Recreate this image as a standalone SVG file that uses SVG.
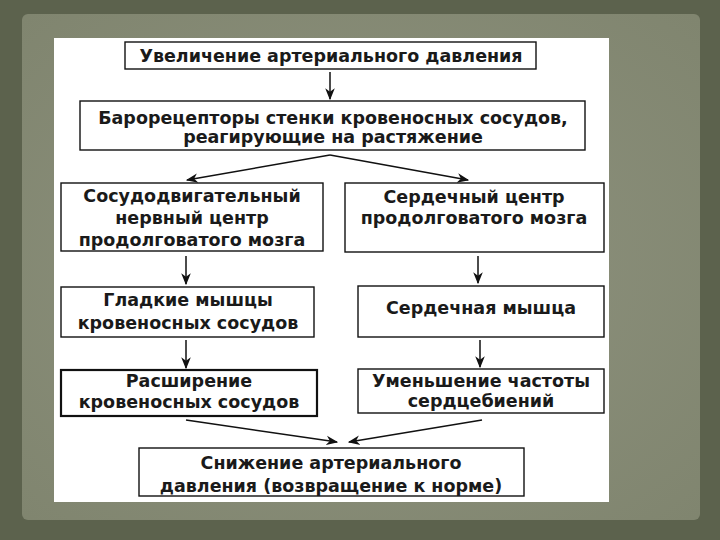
<svg xmlns="http://www.w3.org/2000/svg" width="720" height="540" viewBox="0 0 720 540">
<defs>
<style>
.box{fill:#fff;stroke:#111;stroke-width:1.4}
.thick{stroke-width:2.2}
.t{font-family:"DejaVu Sans",Verdana,sans-serif;font-size:17.5px;font-weight:bold;fill:#1a1a1a;text-anchor:middle}
.c{stroke:#111;stroke-width:1.5;fill:none;marker-end:url(#ah)}
</style>
<marker id="ah" viewBox="0 0 10 10" refX="9" refY="5" markerWidth="12" markerHeight="12" markerUnits="userSpaceOnUse" orient="auto">
<path d="M0,1 L10,5 L0,9 L3,5 Z" fill="#111"/>
</marker>
<radialGradient id="bg" cx="50%" cy="50%" r="70%">
<stop offset="0" stop-color="#8f937f"/>
<stop offset="1" stop-color="#80856f"/>
</radialGradient>
</defs>
<rect x="0" y="0" width="720" height="540" fill="#5c624d"/>
<rect x="22" y="14" width="678" height="506" rx="6" fill="url(#bg)"/>
<rect x="54" y="38" width="555" height="464" fill="#fff"/>
<g id="connectors">
<line class="c" x1="330" y1="72" x2="330" y2="99"/>
<line class="c" x1="330" y1="155" x2="187" y2="180"/>
<line class="c" x1="330" y1="155" x2="468" y2="180"/>
<line class="c" x1="186" y1="256" x2="186" y2="284"/>
<line class="c" x1="478" y1="256" x2="478" y2="283"/>
<line class="c" x1="186" y1="340" x2="186" y2="368"/>
<line class="c" x1="480" y1="340" x2="480" y2="367"/>
<line class="c" x1="186" y1="420" x2="337" y2="442"/>
<line class="c" x1="482" y1="420" x2="349" y2="442"/>
</g>
<g id="n1"><rect class="box" x="125" y="42" width="411" height="27"/><text class="t" x="331" y="62">Увеличение артериального давления</text></g>
<g id="n2"><rect class="box" x="80" y="101" width="505" height="49"/><text class="t" x="333" y="124">Барорецепторы стенки кровеносных сосудов,</text><text class="t" x="333" y="143">реагирующие на растяжение</text></g>
<g id="n3"><rect class="box" x="61" y="183" width="262" height="68"/><text class="t" x="192" y="202">Сосудодвигательный</text><text class="t" x="192" y="224">нервный центр</text><text class="t" x="192" y="246">продолговатого мозга</text></g>
<g id="n4"><rect class="box" x="345" y="183" width="259" height="69"/><text class="t" x="474" y="203">Сердечный центр</text><text class="t" x="474" y="224">продолговатого мозга</text></g>
<g id="n5"><rect class="box" x="61" y="287" width="253" height="50"/><text class="t" x="188" y="306">Гладкие мышцы</text><text class="t" x="188" y="329">кровеносных сосудов</text></g>
<g id="n6"><rect class="box" x="358" y="286" width="246" height="51"/><text class="t" x="481" y="314">Сердечная мышца</text></g>
<g id="n7"><rect class="box thick" x="61" y="370" width="256" height="46"/><text class="t" x="189" y="387">Расширение</text><text class="t" x="189" y="408">кровеносных сосудов</text></g>
<g id="n8"><rect class="box" x="358" y="369" width="246" height="44"/><text class="t" x="481" y="387">Уменьшение частоты</text><text class="t" x="481" y="407">сердцебиений</text></g>
<g id="n9"><rect class="box" x="139" y="448" width="385" height="48"/><text class="t" x="331" y="469">Снижение артериального</text><text class="t" x="331" y="492">давления (возвращение к норме)</text></g>
</svg>
